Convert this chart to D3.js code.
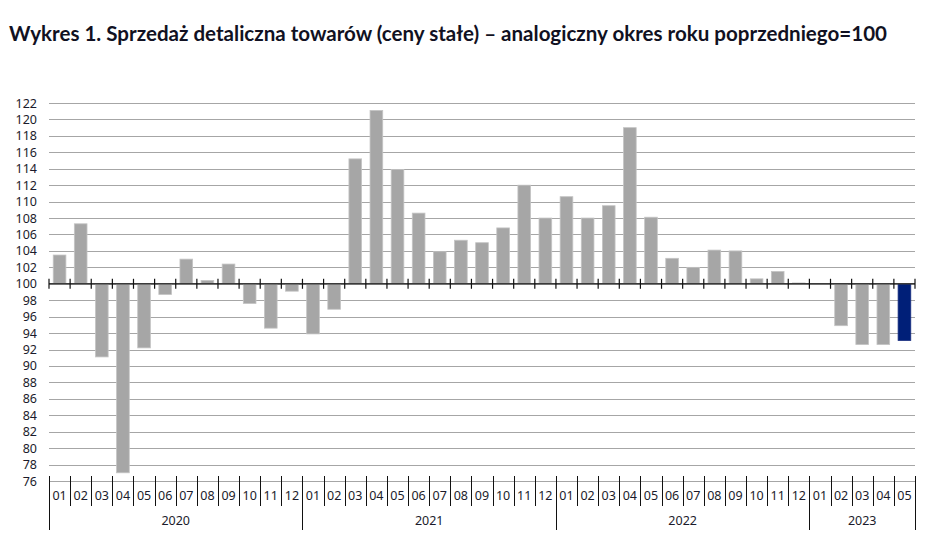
<!DOCTYPE html>
<html>
<head>
<meta charset="utf-8">
<script src="https://cdn.jsdelivr.net/npm/d3@7"></script>
<style>
  html, body { margin: 0; padding: 0; background: #fff; }
  svg { display: block; }
</style>
</head>
<body>
<svg id="chart" width="948" height="556"></svg>
<script>
const titleText = "Wykres 1. Sprzedaż detaliczna towarów (ceny stałe) – analogiczny okres roku poprzedniego=100";
const months = ["01","02","03","04","05","06","07","08","09","10","11","12",
                "01","02","03","04","05","06","07","08","09","10","11","12",
                "01","02","03","04","05","06","07","08","09","10","11","12",
                "01","02","03","04","05"];
const years = ["2020","2021","2022","2023"];
const yearMonthCounts = [12, 12, 12, 5];
const values = [103.5, 107.3, 91.1, 77.0, 92.2, 98.7, 103.0, 100.4, 102.4, 97.6, 94.6, 99.1,
                93.9, 96.9, 115.2, 121.1, 113.9, 108.6, 103.9, 105.3, 105.0, 106.8, 112.0, 108.0,
                110.6, 108.0, 109.5, 119.0, 108.1, 103.1, 102.0, 104.1, 104.0, 100.6, 101.5, 100.1,
                100.0, 94.9, 92.6, 92.6, 93.1];
const yTicks = d3.range(76, 123, 2);
const baseline = 100;

(function () {
const svg = d3.select("#chart");
const pLeft = 49, pRight = 915, pTop = 103, pBottom = 481;
const idx = values.map((d, i) => i);

const x = d3.scaleBand().domain(idx).range([pLeft, pRight]).paddingInner(0.4).paddingOuter(0.2);
const y = d3.scaleLinear().domain([76, 122]).range([pBottom, pTop]);
const fontFam = "'Noto Sans', 'Open Sans', sans-serif";
const labelColor = "#1b1b2b";

// Title
svg.append("text")
  .attr("x", 9).attr("y", 41)
  .attr("font-family", "Lato, 'Open Sans', sans-serif")
  .attr("font-weight", 700)
  .attr("font-size", 20)
  .attr("fill", "#111122")
  .attr("textLength", 878)
  .attr("lengthAdjust", "spacingAndGlyphs")
  .text(titleText);

// Gridlines
svg.append("g").selectAll("line").data(yTicks).join("line")
  .attr("x1", pLeft).attr("x2", pRight)
  .attr("y1", d => Math.round(y(d)) + 0.5).attr("y2", d => Math.round(y(d)) + 0.5)
  .attr("stroke", "#a6a6a6").attr("stroke-width", 1.2);

// Y axis labels
const yAxis = d3.axisLeft(y).tickValues(yTicks).tickSize(0).tickPadding(0);
const gy = svg.append("g").attr("transform", `translate(${pLeft - 12},0)`).call(yAxis);
gy.select(".domain").remove();
gy.selectAll("text")
  .attr("font-family", fontFam).attr("font-size", 12.5)
  .attr("fill", labelColor);

// Bars
svg.append("g").selectAll("rect").data(values).join("rect")
  .attr("x", (d, i) => x(i))
  .attr("width", x.bandwidth())
  .attr("y", d => y(Math.max(d, baseline)))
  .attr("height", d => Math.abs(y(d) - y(baseline)))
  .attr("fill", (d, i) => i === values.length - 1 ? "#001f78" : "#a6a6a6")
  .attr("stroke", (d, i) => i === values.length - 1 ? "#1a2f80" : "#c4c4c4")
  .attr("stroke-width", 0.8);

// Baseline axis at 100 with ticks at month boundaries
const y0 = y(baseline);
svg.append("line")
  .attr("x1", pLeft).attr("x2", pRight)
  .attr("y1", y0).attr("y2", y0)
  .attr("stroke", "#3a3a3a").attr("stroke-width", 1.6);
const step = x.step();
const boundaries = d3.range(0, values.length + 1).map(i => pLeft + i * step);
svg.append("g").selectAll("line").data(boundaries).join("line")
  .attr("x1", d => d).attr("x2", d => d)
  .attr("y1", y0 - 5).attr("y2", y0 + 5)
  .attr("stroke", "#111").attr("stroke-width", 1.2);

// Category axis at bottom: month separators and labels
const yearStarts = [0];
yearMonthCounts.forEach((c, i) => yearStarts.push(yearStarts[i] + c));
const yearBoundarySet = new Set(yearStarts);
svg.append("g").selectAll("line").data(boundaries).join("line")
  .attr("x1", d => Math.round(d) + 0.5).attr("x2", d => Math.round(d) + 0.5)
  .attr("y1", pBottom - 5)
  .attr("y2", (d, i) => yearBoundarySet.has(i) ? pBottom + 49 : pBottom + 25)
  .attr("stroke", "#111").attr("stroke-width", 1);

svg.append("g").selectAll("text").data(months).join("text")
  .attr("x", (d, i) => x(i) + x.bandwidth() / 2)
  .attr("y", pBottom + 19)
  .attr("text-anchor", "middle")
  .attr("font-family", fontFam).attr("font-size", 12.5)
  .attr("fill", labelColor)
  .text(d => d);

svg.append("g").selectAll("text").data(years).join("text")
  .attr("x", (d, i) => pLeft + (yearStarts[i] + yearMonthCounts[i] / 2) * step)
  .attr("y", pBottom + 44)
  .attr("text-anchor", "middle")
  .attr("font-family", fontFam).attr("font-size", 12.5)
  .attr("fill", labelColor)
  .text(d => d);
})();
</script>
</body>
</html>
